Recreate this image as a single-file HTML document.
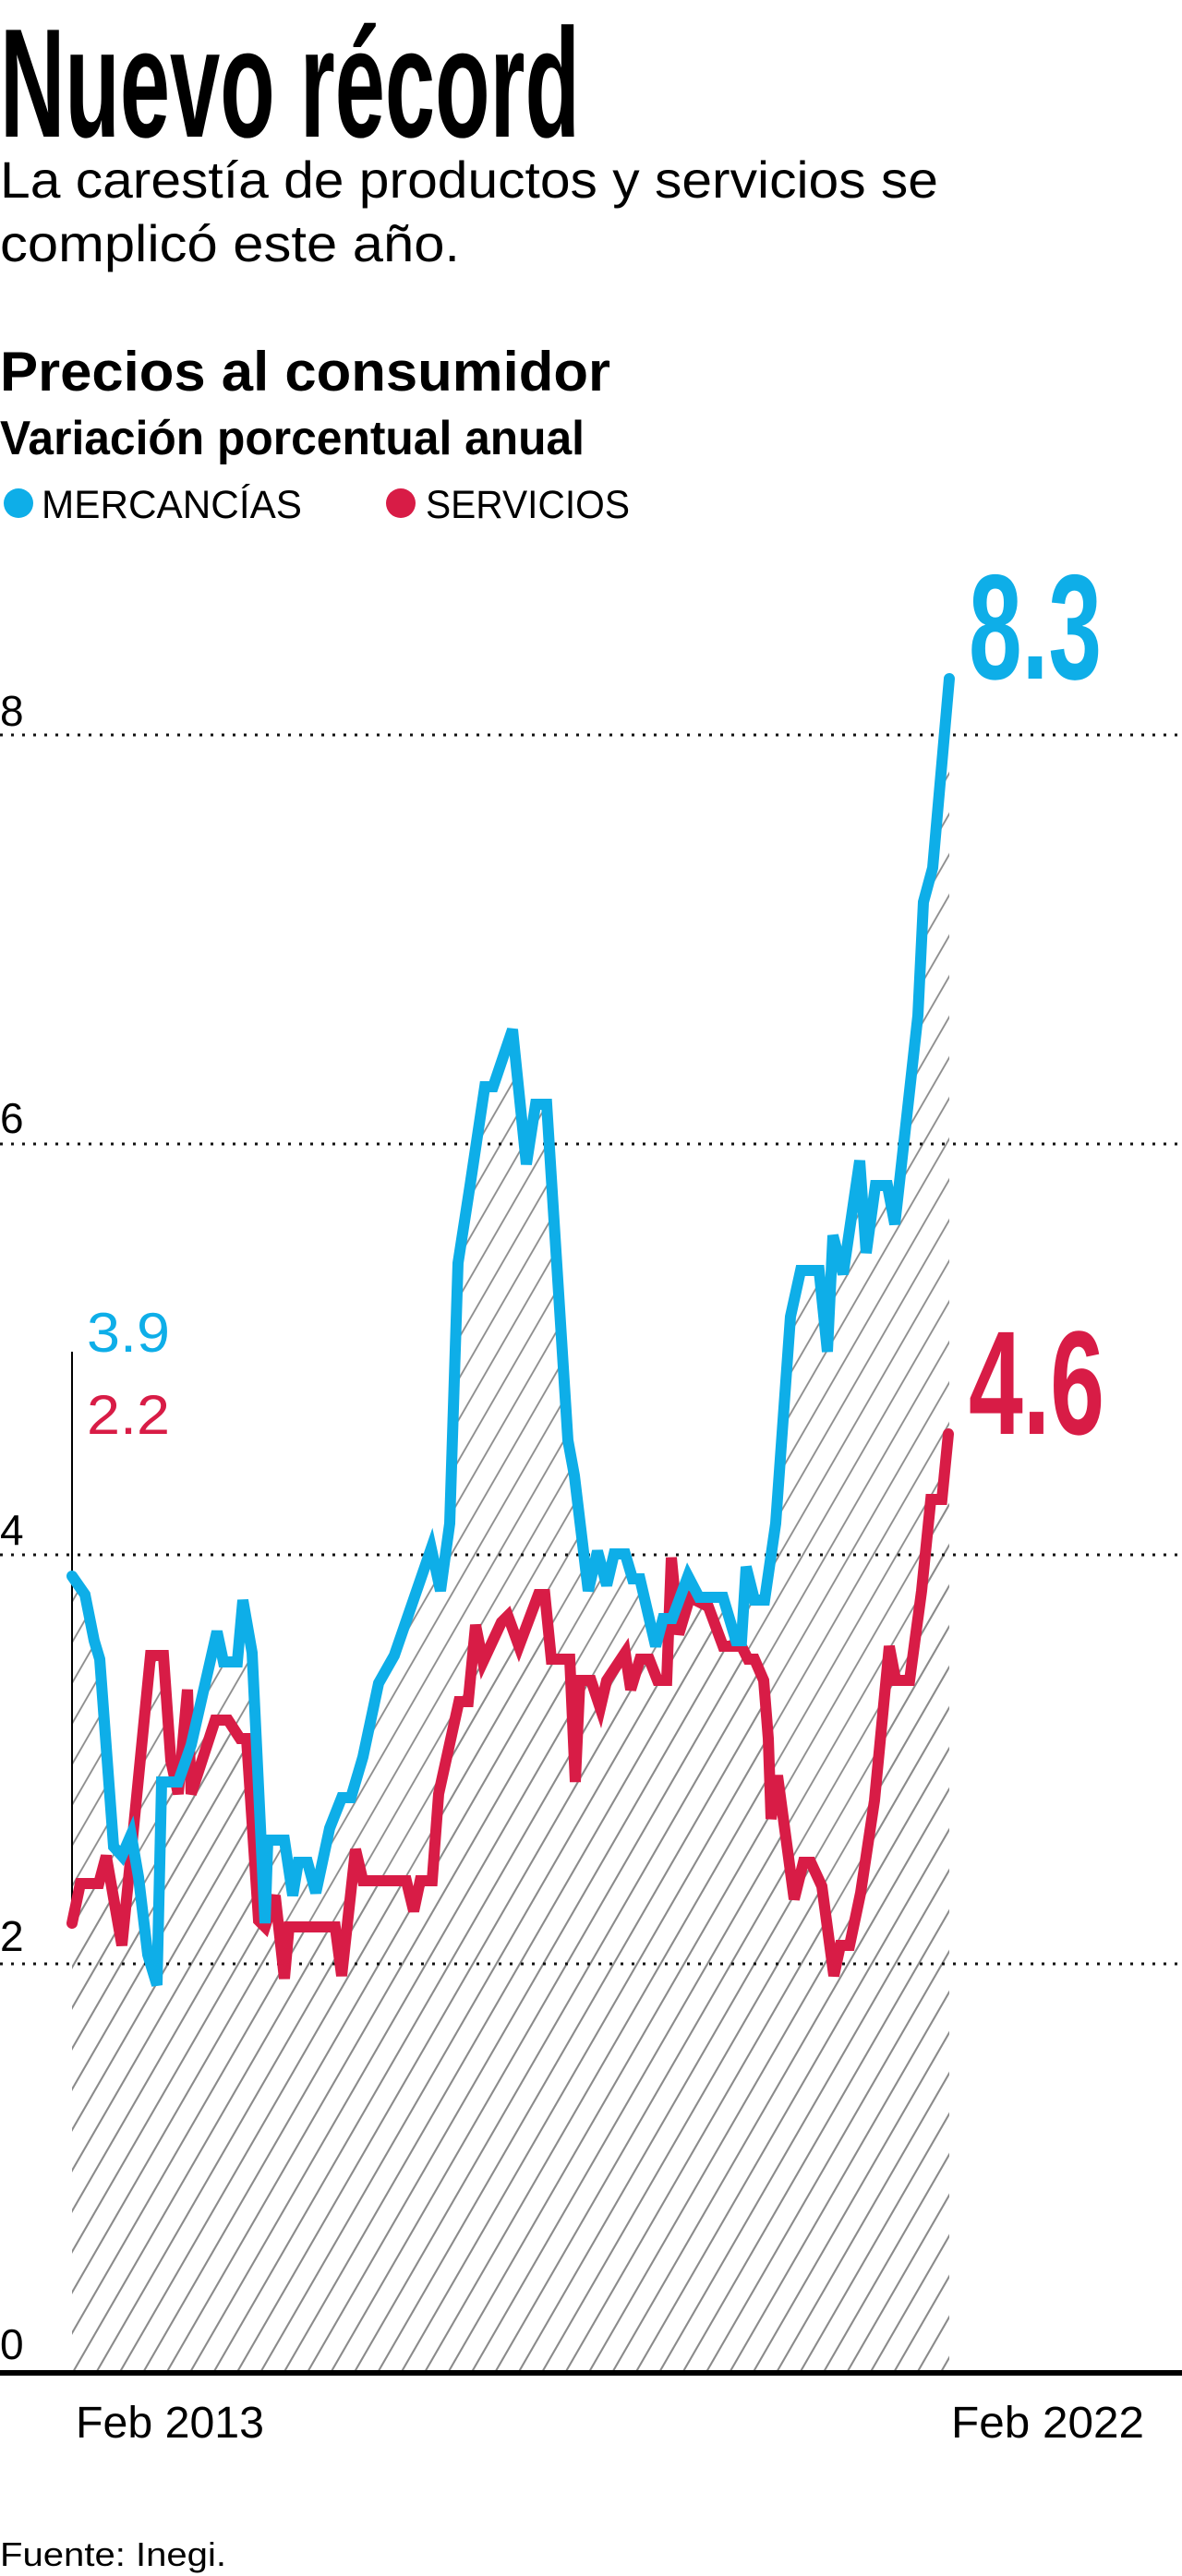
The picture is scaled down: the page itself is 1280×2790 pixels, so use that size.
<!DOCTYPE html>
<html><head><meta charset="utf-8"><style>html,body{margin:0;padding:0;background:#fff}svg{display:block}</style></head>
<body>
<svg width="1280" height="2790" viewBox="0 0 1280 2790" xmlns="http://www.w3.org/2000/svg" font-family="'Liberation Sans', sans-serif">
<defs>
<pattern id="h" patternUnits="userSpaceOnUse" width="22" height="22" patternTransform="rotate(30)">
<line x1="11" y1="-2" x2="11" y2="24" stroke="#8a8a8a" stroke-width="1.8"/>
</pattern>
</defs>
<rect width="1280" height="2790" fill="#fff"/>
<text x="0" y="148" font-size="168" font-weight="bold" textLength="628" lengthAdjust="spacingAndGlyphs">Nuevo récord</text>
<text x="0" y="214" font-size="56" textLength="1016" lengthAdjust="spacingAndGlyphs">La carestía de productos y servicios se</text>
<text x="0" y="283" font-size="56" textLength="498" lengthAdjust="spacingAndGlyphs">complicó este año.</text>
<text x="0" y="423" font-size="60" font-weight="bold" textLength="661" lengthAdjust="spacingAndGlyphs">Precios al consumidor</text>
<text x="0" y="492" font-size="52" font-weight="bold" textLength="633" lengthAdjust="spacingAndGlyphs">Variación porcentual anual</text>
<circle cx="20" cy="545" r="16" fill="#0eaee8"/>
<text x="45" y="561" font-size="43" textLength="282" lengthAdjust="spacingAndGlyphs">MERCANCÍAS</text>
<circle cx="434" cy="545" r="16" fill="#d81c46"/>
<text x="461" y="561" font-size="43" textLength="221" lengthAdjust="spacingAndGlyphs">SERVICIOS</text>

<polygon fill="url(#h)" points="78,2568 78,1707 92,1727 102,1777 108,1797 123,2000 132,2010 142,1987 150,2033 160,2117 170,2150 175,1930 193,1930 207,1890 235,1767 242,1800 257,1800 263,1733 273,1790 287,2083 290,1993 308,1993 317,2053 323,2017 333,2017 342,2050 357,1980 370,1947 380,1947 393,1903 410,1823 427,1793 467,1677 477,1723 487,1650 496,1368 509,1284 525,1177 534,1177 555,1115 570,1261 580,1196 592,1196 615,1560 622,1598 637,1723 647,1680 657,1717 665,1683 677,1683 685,1710 693,1710 710,1783 718,1753 728,1753 745,1707 757,1730 783,1730 797,1777 803,1777 808,1697 817,1733 828,1733 840,1650 856,1426 867,1376 887,1376 896,1464 902,1338 913,1380 931,1257 938,1357 948,1284 961,1284 969,1326 975,1272 994,1100 1000,977 1010,940 1028,735 1028,2568"/>
<polygon fill="url(#h)" points="78,2568 78,2083 87,2040 107,2040 115,2010 132,2107 140,2027 163,1793 177,1793 185,1907 193,1943 203,1830 207,1943 233,1863 247,1863 260,1883 267,1883 280,2080 287,2087 298,2053 308,2143 313,2087 363,2087 370,2140 385,2003 393,2037 440,2037 448,2070 455,2037 468,2037 475,1943 497,1843 507,1843 515,1760 523,1800 543,1757 550,1750 562,1783 583,1727 590,1727 597,1797 617,1797 623,1930 628,1820 640,1820 650,1850 657,1820 677,1790 683,1830 693,1797 703,1797 712,1820 722,1820 727,1687 735,1770 747,1730 767,1740 783,1783 803,1783 810,1797 817,1797 827,1820 832,1883 835,1970 842,1923 860,2057 870,2017 878,2017 890,2043 903,2140 910,2107 920,2107 932,2050 947,1950 963,1783 970,1820 985,1820 998,1723 1008,1624 1020,1624 1027,1553 1028,2568"/>

<g stroke="#111" stroke-width="3" stroke-dasharray="3 9">
<line x1="0" y1="796" x2="1280" y2="796"/>
<line x1="0" y1="1239" x2="1280" y2="1239"/>
<line x1="0" y1="1684" x2="1280" y2="1684"/>
<line x1="0" y1="2127" x2="1280" y2="2127"/>
</g>
<g font-size="46">
<text x="0" y="786">8</text>
<text x="0" y="1227">6</text>
<text x="0" y="1673">4</text>
<text x="0" y="2113">2</text>
<text x="0" y="2555">0</text>
</g>
<line x1="0" y1="2570" x2="1280" y2="2570" stroke="#000" stroke-width="6"/>
<line x1="78" y1="1464" x2="78" y2="2083" stroke="#000" stroke-width="2"/>

<polyline fill="none" stroke="#d81c46" stroke-width="12" stroke-linejoin="miter" stroke-linecap="round" points="78,2083 87,2040 107,2040 115,2010 132,2107 140,2027 163,1793 177,1793 185,1907 193,1943 203,1830 207,1943 233,1863 247,1863 260,1883 267,1883 280,2080 287,2087 298,2053 308,2143 313,2087 363,2087 370,2140 385,2003 393,2037 440,2037 448,2070 455,2037 468,2037 475,1943 497,1843 507,1843 515,1760 523,1800 543,1757 550,1750 562,1783 583,1727 590,1727 597,1797 617,1797 623,1930 628,1820 640,1820 650,1850 657,1820 677,1790 683,1830 693,1797 703,1797 712,1820 722,1820 727,1687 735,1770 747,1730 767,1740 783,1783 803,1783 810,1797 817,1797 827,1820 832,1883 835,1970 842,1923 860,2057 870,2017 878,2017 890,2043 903,2140 910,2107 920,2107 932,2050 947,1950 963,1783 970,1820 985,1820 998,1723 1008,1624 1020,1624 1027,1553"/>
<polyline fill="none" stroke="#0eaee8" stroke-width="12" stroke-linejoin="miter" stroke-linecap="round" points="78,1707 92,1727 102,1777 108,1797 123,2000 132,2010 142,1987 150,2033 160,2117 170,2150 175,1930 193,1930 207,1890 235,1767 242,1800 257,1800 263,1733 273,1790 287,2083 290,1993 308,1993 317,2053 323,2017 333,2017 342,2050 357,1980 370,1947 380,1947 393,1903 410,1823 427,1793 467,1677 477,1723 487,1650 496,1368 509,1284 525,1177 534,1177 555,1115 570,1261 580,1196 592,1196 615,1560 622,1598 637,1723 647,1680 657,1717 665,1683 677,1683 685,1710 693,1710 710,1783 718,1753 728,1753 745,1707 757,1730 783,1730 797,1777 803,1777 808,1697 817,1733 828,1733 840,1650 856,1426 867,1376 887,1376 896,1464 902,1338 913,1380 931,1257 938,1357 948,1284 961,1284 969,1326 975,1272 994,1100 1000,977 1010,940 1028,735"/>

<text x="1049" y="735" font-size="162" font-weight="bold" fill="#0eaee8" textLength="144" lengthAdjust="spacingAndGlyphs">8.3</text>
<text x="1049" y="1553" font-size="160" font-weight="bold" fill="#d81c46" textLength="147" lengthAdjust="spacingAndGlyphs">4.6</text>
<text x="94" y="1464" font-size="60" fill="#0eaee8" textLength="90" lengthAdjust="spacingAndGlyphs">3.9</text>
<text x="94" y="1553" font-size="60" fill="#d81c46" textLength="90" lengthAdjust="spacingAndGlyphs">2.2</text>

<text x="82" y="2640" font-size="48" textLength="204" lengthAdjust="spacingAndGlyphs">Feb 2013</text>
<text x="1030" y="2640" font-size="48" textLength="209" lengthAdjust="spacingAndGlyphs">Feb 2022</text>
<text x="0" y="2779" font-size="36" textLength="245" lengthAdjust="spacingAndGlyphs">Fuente: Inegi.</text>
</svg>
</body></html>
